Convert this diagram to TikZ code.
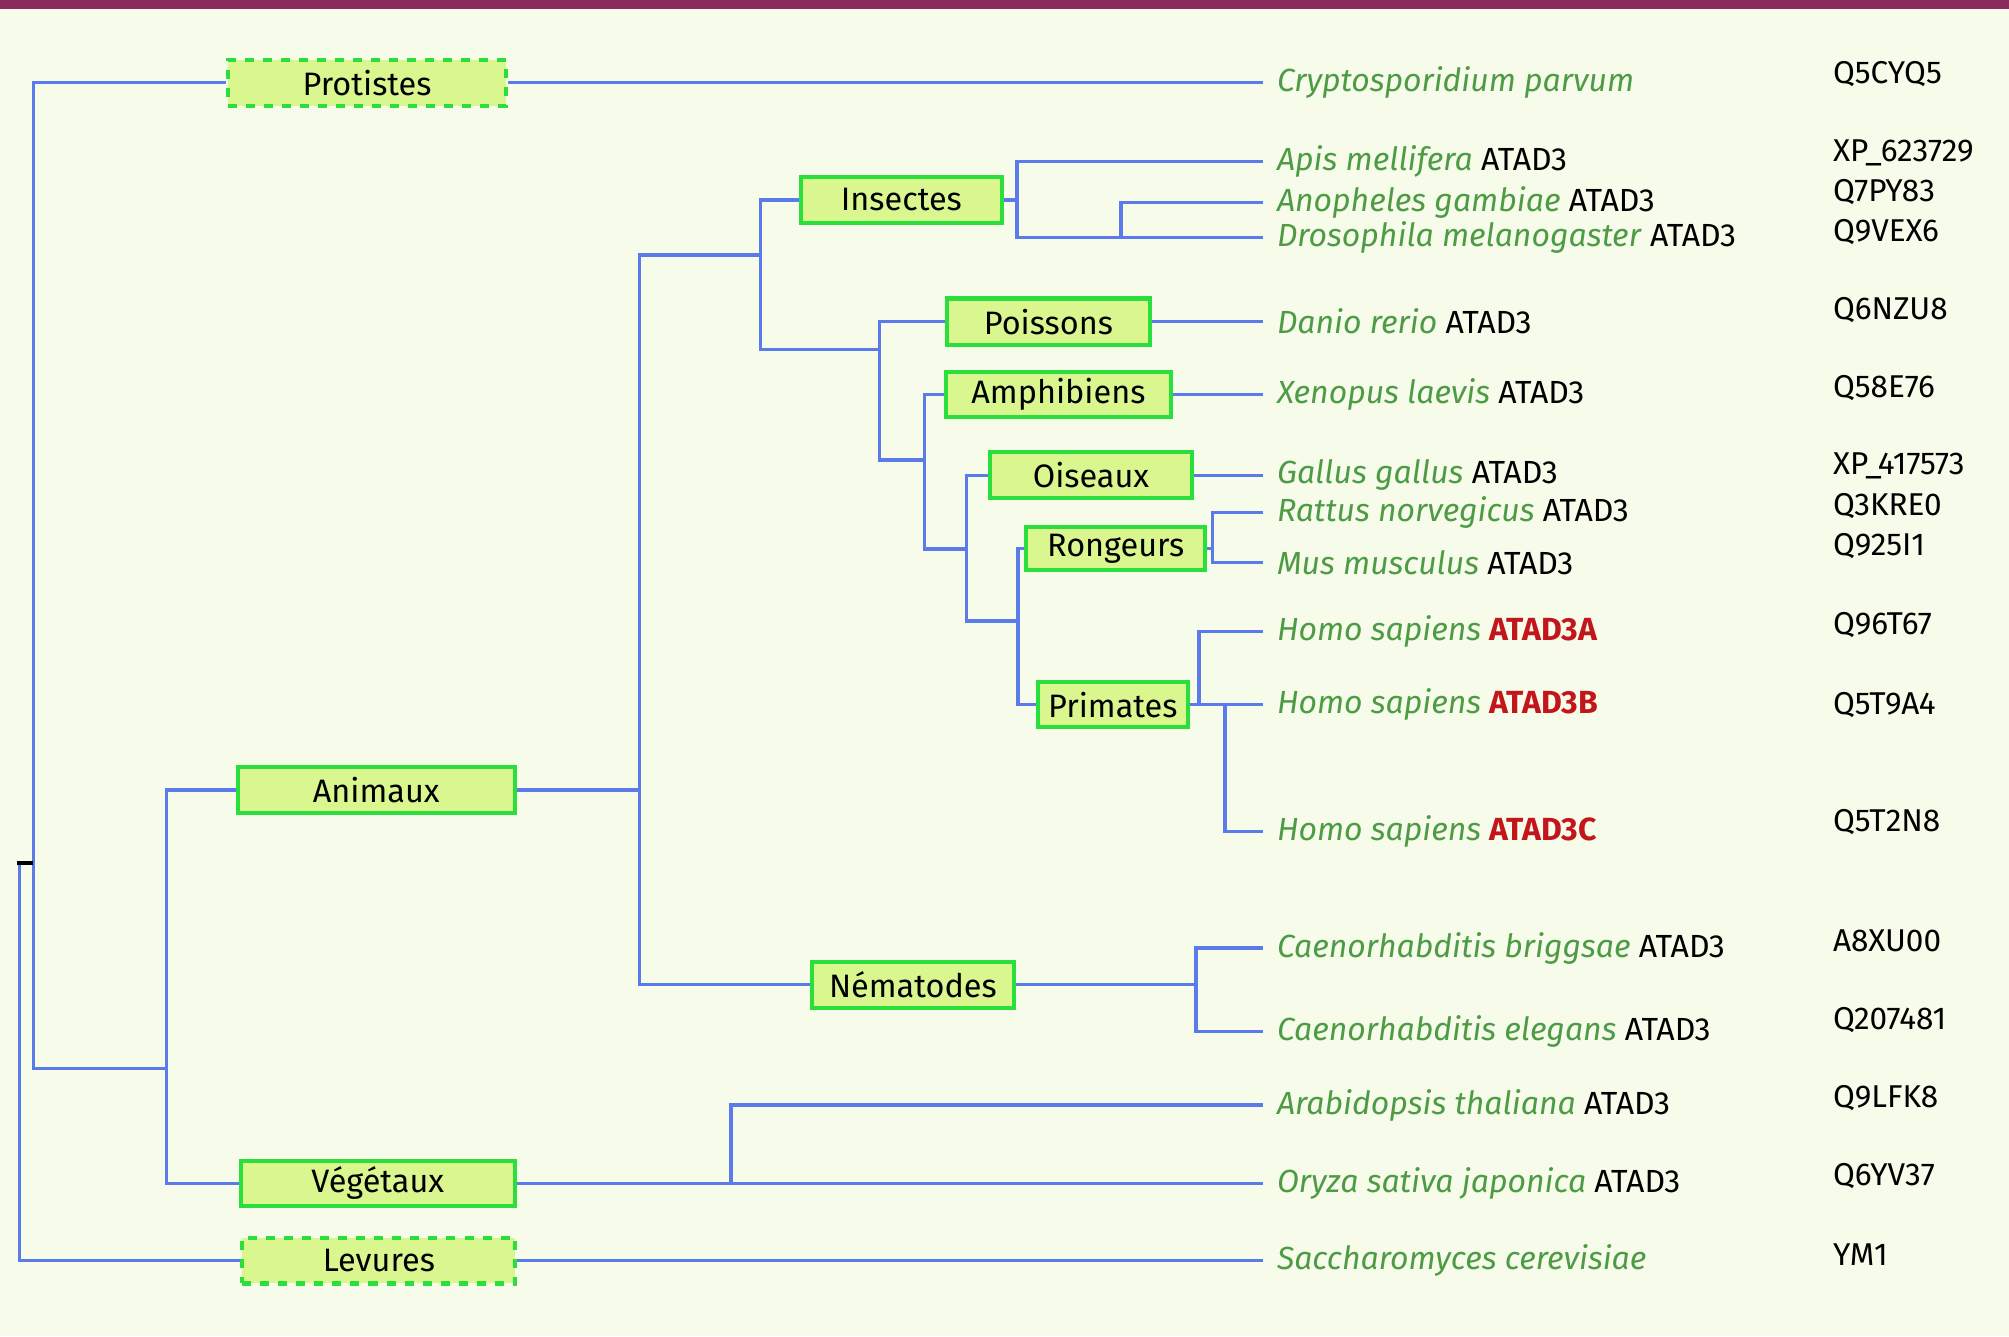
\documentclass[tikz,border=0pt]{standalone}
\usepackage{fontspec}
\setmainfont{Fira Sans}
\definecolor{cfond}{HTML}{F7FCEA}
\definecolor{cbarre}{HTML}{8A2B5B}
\definecolor{cbleu}{HTML}{5B7BEA}
\definecolor{cboite}{HTML}{DAF78F}
\definecolor{cbord}{HTML}{2ADF3C}
\definecolor{cvert}{HTML}{4E9B45}
\definecolor{crouge}{HTML}{C3161C}
\newcommand{\gene}[1]{\textup{\color{black}#1}}
\newcommand{\geneh}[1]{\textup{\bfseries\color{crouge}#1}}
\tikzset{
  branche/.style={draw=cbleu, line width=0.75pt},
  groupe/.style={draw=cbord, fill=cboite, line width=0.9pt, inner sep=0pt, font=\fontsize{7.2}{9}\selectfont},
  incertain/.style={groupe, dash pattern=on 2pt off 2pt},
  espece/.style={anchor=west, inner xsep=0.1cm, inner ysep=0pt, text=cvert, font=\fontsize{7.1}{8}\selectfont\itshape},
  code/.style={anchor=west, inner sep=0pt, font=\fontsize{7}{8}\selectfont},
}

\begin{document}
\begin{tikzpicture}[x=0.01cm, y=-0.01cm]
  % Fond
  \useasboundingbox (0,0) rectangle (1568,1043);
  \fill[cfond] (0,0) rectangle (1568,1043);
  \fill[cbarre] (0,0) rectangle (1568,7);

  % Groupes
  \node[incertain, minimum width=2.17cm, minimum height=0.36cm] (prot) at (286.5,64.5) {Protistes\hspace{0.28cm}};
  \node[groupe, minimum width=1.57cm, minimum height=0.36cm] (ins) at (703.5,156) {Insectes};
  \node[groupe, minimum width=1.58cm, minimum height=0.36cm] (poi) at (818.3,251) {Poissons};
  \node[groupe, minimum width=1.75cm, minimum height=0.35cm] (amp) at (826.1,308) {Amphibiens};
  \node[groupe, minimum width=1.57cm, minimum height=0.36cm] (ois) at (851.5,371) {Oiseaux};
  \node[groupe, minimum width=1.40cm, minimum height=0.34cm] (ron) at (870.8,428) {Rongeurs};
  \node[groupe, minimum width=1.17cm, minimum height=0.35cm] (pri) at (868.5,550) {Primates};
  \node[groupe, minimum width=2.16cm, minimum height=0.355cm] (ani) at (293.7,616.5) {Animaux};
  \node[groupe, minimum width=1.575cm, minimum height=0.36cm] (nem) at (712.5,768.5) {Nématodes};
  \node[groupe, minimum width=2.14cm, minimum height=0.35cm] (veg) at (294.9,923.5) {Végétaux};
  \node[incertain, minimum width=2.13cm, minimum height=0.355cm] (lev) at (295.7,984) {Levures};

  % Especes
  \node[espece] (cry) at (986,64.5) {Cryptosporidium parvum};
  \node[espece] (apis) at (986,126) {Apis mellifera \gene{ATAD3}};
  \node[espece] (anop) at (986,158) {Anopheles gambiae \gene{ATAD3}};
  \node[espece] (dros) at (986,185.5) {Drosophila melanogaster \gene{ATAD3}};
  \node[espece] (danio) at (986,251) {Danio rerio \gene{ATAD3}};
  \node[espece] (xen) at (986,308) {Xenopus laevis \gene{ATAD3}};
  \node[espece] (gal) at (986,371) {Gallus gallus \gene{ATAD3}};
  \node[espece] (rat) at (986,400) {Rattus norvegicus \gene{ATAD3}};
  \node[espece] (mus) at (986,439) {Mus musculus \gene{ATAD3}};
  \node[espece] (hsa) at (986,493) {Homo sapiens \geneh{ATAD3A}};
  \node[espece] (hsb) at (986,550) {Homo sapiens \geneh{ATAD3B}};
  \node[espece] (hsc) at (986,649) {Homo sapiens \geneh{ATAD3C}};
  \node[espece] (cbr) at (986,740) {Caenorhabditis briggsae \gene{ATAD3}};
  \node[espece] (cel) at (986,805) {Caenorhabditis elegans \gene{ATAD3}};
  \node[espece] (ara) at (986,862.5) {Arabidopsis thaliana \gene{ATAD3}};
  \node[espece] (ory) at (986,923.5) {Oryza sativa japonica \gene{ATAD3}};
  \node[espece] (sac) at (986,984) {Saccharomyces cerevisiae};

  % Numeros d'acces
  \foreach \c/\y [count=\i] in {Q5CYQ5/58, XP\_623729/119, Q7PY83/150, Q9VEX6/181,
      Q6NZU8/242, Q58E76/303, XP\_417573/364, Q3KRE0/395, Q925I1/426, Q96T67/488,
      Q5T9A4/550, Q5T2N8/642, A8XU00/734, Q207481/796, Q9LFK8/857, Q6YV37/918, YM1/979}
    \node[code] (code\i) at (1430,\y) {\c};

  % Noeuds internes
  \coordinate (racine) at (13.5,673.8);
  \coordinate (n0) at (15,673.8);
  \coordinate (n0b) at (26,673.8);
  \coordinate (n1) at (26,833.8);
  \coordinate (n2) at (130,833.8);
  \coordinate (nAni) at (499.3,616.5);
  \coordinate (nBil) at (593.6,199);
  \coordinate (nVert) at (686.6,273);
  \coordinate (nTet) at (721.5,359);
  \coordinate (nAmn) at (754.5,428.5);
  \coordinate (nMam) at (794.6,484.7);
  \coordinate (nIns) at (793.7,156);
  \coordinate (nDip) at (875,185.5);
  \coordinate (nRon) at (946.5,428);
  \coordinate (nPri) at (935.8,550);
  \coordinate (nPriB) at (956,550);
  \coordinate (nNem) at (933.4,768.5);
  \coordinate (nVeg) at (570.4,923.5);

  % Branches
  \draw[branche] (prot.west) -| (n1) -- (n2);
  \draw[branche] (ani.west) -| (n2) |- (veg.west);
  \draw[branche] (n0) |- (lev.west);
  \draw[branche] (ani.east) -- (nAni);
  \draw[branche] (nBil) -| (nAni) |- (nem.west);
  \draw[branche] (ins.west) -| (nBil) |- (nVert);
  \draw[branche] (poi.west) -| (nVert) |- (nTet);
  \draw[branche] (amp.west) -| (nTet) |- (nAmn);
  \draw[branche] (ois.west) -| (nAmn) |- (nMam);
  \draw[branche] (ron.west) -| (nMam) |- (pri.west);
  \draw[branche] (ins.east) -- (nIns);
  \draw[branche] (apis.west) -| (nIns) |- (nDip);
  \draw[branche] (anop.west) -| (nDip) -- (dros.west);
  \draw[branche] (prot.east) -- (cry.west);
  \draw[branche] (poi.east) -- (danio.west);
  \draw[branche] (amp.east) -- (xen.west);
  \draw[branche] (ois.east) -- (gal.west);
  \draw[branche] (ron.east) -- (nRon);
  \draw[branche] (rat.west) -| (nRon) |- (mus.west);
  \draw[branche] (pri.east) -- (hsb.west);
  \draw[branche] (hsa.west) -| (nPri);
  \draw[branche] (nPriB) |- (hsc.west);
  \draw[branche] (nem.east) -- (nNem);
  \draw[branche] (cbr.west) -| (nNem) |- (cel.west);
  \draw[branche] (veg.east) -- (ory.west);
  \draw[branche] (nVeg) |- (ara.west);
  \draw[branche] (lev.east) -- (sac.west);
  \draw[black, line width=0.8pt] (racine) -- (n0b);
\end{tikzpicture}
\end{document}
